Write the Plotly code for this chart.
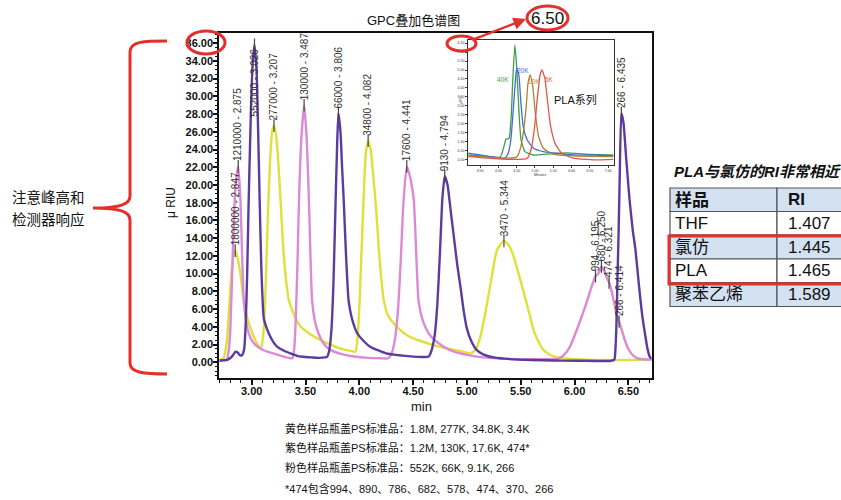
import plotly.graph_objects as go

W, H = 841, 500
FONT = "Liberation Sans, Arial, Noto Sans CJK SC, sans-serif"
RED = "#e3302c"

# ---------------- data ----------------
yellow_x = [2.699, 2.74, 2.77, 2.79, 2.81, 2.83, 2.849, 2.868, 2.895, 2.92, 2.95, 2.99, 3.03, 3.06, 3.085,
            3.105, 3.125, 3.149, 3.17, 3.19, 3.207, 3.225, 3.245, 3.267, 3.29, 3.315, 3.345, 3.40, 3.45, 3.55,
            3.65, 3.75, 3.85, 3.93, 3.964, 3.985, 4.005, 4.025, 4.04, 4.06, 4.082, 4.105, 4.13, 4.155, 4.18,
            4.20, 4.227, 4.27, 4.35, 4.45, 4.57, 4.70, 4.816, 4.93, 5.03, 5.08, 5.125, 5.17, 5.22, 5.28,
            5.344, 5.39, 5.435, 5.48, 5.53, 5.58, 5.62, 5.67, 5.71, 5.77, 5.84, 5.95, 6.10, 6.30, 6.50, 6.717]
yellow_y = [0.25, 0.5, 2.5, 6.0, 9.8, 12.0, 12.6, 11.8, 10.0, 7.5, 5.4, 3.8, 2.6, 1.9, 1.6,
            2.8, 7.0, 16.0, 22.5, 26.0, 26.7, 25.8, 23.0, 18.5, 13.5, 9.8, 7.0, 5.2, 4.1, 3.1,
            2.45, 1.9, 1.45, 1.25, 1.2, 3.0, 7.5, 14.0, 18.5, 23.5, 25.0, 24.0, 21.0, 17.5, 13.0,
            10.0, 7.0, 5.2, 4.0, 3.0, 2.4, 1.9, 1.55, 1.3, 1.0, 1.4, 2.9, 5.5, 8.9, 12.7,
            13.7, 13.2, 11.9, 10.0, 7.8, 5.5, 3.6, 2.2, 1.4, 0.85, 0.55, 0.4, 0.3, 0.25, 0.25, 0.3]

pink_x = [2.699, 2.76, 2.77, 2.785, 2.80, 2.815, 2.833, 2.85, 2.875, 2.895, 2.91, 2.926, 2.95, 2.972, 3.01,
          3.05, 3.12, 3.20, 3.28, 3.36, 3.378, 3.395, 3.41, 3.425, 3.44, 3.46, 3.487, 3.51, 3.53, 3.545,
          3.561, 3.585, 3.62, 3.67, 3.73, 3.83, 3.95, 4.08, 4.20, 4.27, 4.30, 4.33, 4.36, 4.385, 4.41,
          4.441, 4.47, 4.506, 4.53, 4.55, 4.59, 4.645, 4.70, 4.785, 4.88, 5.00, 5.15, 5.35, 5.55, 5.75,
          5.85, 5.90, 5.95, 6.00, 6.05, 6.10, 6.15, 6.195, 6.222, 6.250, 6.28, 6.30, 6.321, 6.345, 6.37,
          6.395, 6.414, 6.44, 6.47, 6.50, 6.55, 6.60, 6.717]
pink_y = [0.15, 0.25, 0.3, 1.2, 3.3, 8.5, 15.5, 20.0, 22.1, 18.5, 12.5, 7.0, 4.5, 3.3, 2.3,
          1.8, 1.3, 1.0, 0.7, 0.45, 0.45, 1.5, 5.0, 11.0, 18.5, 25.0, 29.0, 25.5, 19.0, 12.5,
          7.0, 4.8, 3.27, 2.1, 1.4, 0.95, 0.65, 0.5, 0.45, 0.45, 1.0, 2.5, 6.0, 11.5, 18.0,
          22.1, 21.0, 18.3, 12.0, 7.0, 4.7, 3.27, 2.5, 1.76, 1.2, 0.83, 0.55, 0.4, 0.35, 0.35,
          0.4, 0.8, 1.6, 3.0, 4.6, 6.3, 8.2, 9.7, 10.0, 10.8, 10.2, 9.5, 9.0, 8.0, 6.6,
          5.2, 4.6, 3.6, 2.4, 1.5, 0.7, 0.4, 0.3]

purple_x = [2.699, 2.78, 2.82, 2.849, 2.87, 2.89, 2.91, 2.93, 2.945, 2.958, 2.972, 2.99, 3.008, 3.026, 3.045,
            3.06, 3.074, 3.09, 3.112, 3.135, 3.158, 3.20, 3.236, 3.30, 3.36, 3.43, 3.50, 3.56, 3.63, 3.68,
            3.70, 3.72, 3.74, 3.76, 3.78, 3.795, 3.806, 3.825, 3.84, 3.855, 3.875, 3.90, 3.93, 3.98, 4.04,
            4.10, 4.25, 4.40, 4.50, 4.60, 4.645, 4.67, 4.70, 4.725, 4.75, 4.772, 4.794, 4.82, 4.85, 4.88,
            4.91, 4.94, 4.97, 5.00, 5.04, 5.09, 5.15, 5.25, 5.40, 5.60, 5.80, 6.00, 6.20, 6.33, 6.37,
            6.38, 6.39, 6.40, 6.41, 6.42, 6.435, 6.455, 6.48, 6.51, 6.54, 6.566, 6.60, 6.63, 6.66, 6.68,
            6.70, 6.717]
purple_y = [0.2, 0.3, 0.7, 1.2, 1.1, 0.8, 0.8, 1.5, 4.5, 10.0, 18.3, 27.0, 33.5, 35.8, 33.0,
            26.0, 18.3, 10.5, 5.0, 4.0, 3.27, 2.3, 1.76, 1.3, 1.0, 0.7, 0.6, 0.55, 0.5, 0.55,
            0.6, 1.3, 3.5, 9.0, 18.3, 25.0, 28.1, 26.0, 22.0, 18.3, 12.5, 7.0, 5.0, 3.3, 2.4,
            1.76, 1.0, 0.75, 0.64, 0.6, 0.65, 1.3, 3.0, 6.5, 12.5, 18.5, 21.0, 20.0, 17.0, 14.0,
            11.0, 8.5, 5.8, 3.8, 2.4, 1.4, 0.9, 0.55, 0.35, 0.25, 0.2, 0.18, 0.15, 0.15, 0.3,
            1.5, 4.5, 10.0, 15.0, 21.0, 28.1, 27.0, 23.0, 18.5, 15.0, 12.7, 8.5, 5.2, 2.8, 1.4,
            0.6, 0.4]

# peak labels: molecular weight - retention time
peak_mw = [1800000, 277000, 34800, 3470, 1210000, 130000, 17600, 994, 680, 474, 266, 552000, 66000, 9130, 266]
peak_rt = [2.847, 3.207, 4.082, 5.344, 2.875, 3.487, 4.441, 6.195, 6.250, 6.321, 6.414, 3.026, 3.806, 4.794, 6.435]
peak_h = [12.6, 26.7, 25.0, 13.7, 22.1, 29.0, 22.1, 9.7, 10.8, 9.0, 4.6, 35.8, 28.1, 21.0, 28.1]
peak_inside = [False] * 11 + [True, False, False, False]

# inset (PLA series)
green_x = [3.18, 3.77, 4.05, 4.14, 4.21, 4.29, 4.35, 4.39, 4.45, 4.50, 4.56, 4.62, 4.73, 4.96, 5.32, 5.87, 6.41, 7.14]
green_y = [0.24, 0.15, 0.12, 0.62, 1.12, 1.17, 2.39, 4.26, 6.40, 5.19, 2.76, 1.08, 0.43, 0.24, 0.29, 0.36, 0.29, 0.24]
blue_x = [3.18, 3.77, 4.18, 4.27, 4.34, 4.40, 4.46, 4.50, 4.56, 4.61, 4.68, 4.79, 4.96, 5.23, 5.50, 6.05, 6.60, 7.14]
blue_y = [0.34, 0.15, 0.06, 0.34, 1.08, 2.58, 4.26, 5.10, 4.72, 3.32, 1.83, 1.08, 0.62, 0.43, 0.36, 0.24, 0.24, 0.19]
brown_x = [3.18, 4.22, 4.50, 4.59, 4.68, 4.76, 4.81, 4.87, 4.94, 5.01, 5.10, 5.23, 5.50, 6.05, 7.14]
brown_y = [0.19, 0.06, 0.12, 0.52, 1.46, 2.95, 4.26, 4.72, 4.07, 2.58, 1.27, 0.62, 0.29, 0.19, 0.15]
red_x = [3.18, 4.22, 4.78, 4.89, 4.98, 5.07, 5.14, 5.19, 5.27, 5.34, 5.43, 5.55, 5.73, 6.05, 6.60, 7.14]
red_y = [0.15, 0.0, 0.04, 0.52, 1.64, 3.51, 4.72, 5.00, 4.54, 3.32, 1.83, 0.89, 0.34, 0.06, -0.03, 0.0]
inset_names = ["40K", "20K", "10K", "5K"]

# RI table
table_sample = ["样品", "THF", "氯仿", "PLA", "聚苯乙烯"]
table_ri = ["RI", "1.407", "1.445", "1.465", "1.589"]

notes = ["黄色样品瓶盖PS标准品：1.8M, 277K, 34.8K, 3.4K",
         "紫色样品瓶盖PS标准品：1.2M, 130K, 17.6K, 474*",
         "粉色样品瓶盖PS标准品：552K, 66K, 9.1K, 266",
         "*474包含994、890、786、682、578、474、370、266"]

# ---------------- helpers (pixel -> paper) ----------------
def px(x):
    return x / W

def py(y):
    return 1 - y / H

def note(x, y, text, size, color="#111", xanchor="center", angle=0):
    return dict(x=px(x), y=py(y), xref="paper", yref="paper", text=text, showarrow=False,
                xanchor=xanchor, yanchor="middle", textangle=angle,
                font=dict(size=size, color=color))

fig = go.Figure()

line_kw = dict(width=2.4, shape="spline", smoothing=0.5)
for xs, ys, col in [(yellow_x, yellow_y, "#dfe03a"), (pink_x, pink_y, "#dc8ad4"), (purple_x, purple_y, "#5b3c9e")]:
    fig.add_trace(go.Scatter(x=xs, y=ys, mode="lines", line=dict(color=col, **line_kw),
                             hoverinfo="skip", showlegend=False))

fig.add_trace(go.Scatter(x=peak_rt, y=peak_h, mode="markers",
                         marker=dict(symbol="line-ns", size=9, line=dict(width=1.2, color="#444")),
                         hoverinfo="skip", showlegend=False))

inset_cols = ["#3f9e4a", "#3e6fcf", "#b08038", "#e2574a"]
for xs, ys, col in zip([green_x, blue_x, brown_x, red_x], [green_y, blue_y, brown_y, red_y], inset_cols):
    fig.add_trace(go.Scatter(x=xs, y=ys, mode="lines", xaxis="x2", yaxis="y2",
                             line=dict(color=col, width=1.3, shape="spline", smoothing=0.5),
                             hoverinfo="skip", showlegend=False))

ann = []
for mw, rt, h, inside in zip(peak_mw, peak_rt, peak_h, peak_inside):
    ann.append(dict(x=rt, y=h, xref="x", yref="y", text=f"{mw} - {rt:.3f}", textangle=-90,
                    showarrow=False, xanchor="center", yanchor="top" if inside else "bottom",
                    yshift=-1 if inside else 3, font=dict(size=10, color="#333")))

# inset labels
inset_pos = [(4.12, 4.45), (4.66, 4.95), (4.98, 4.35), (5.40, 4.45)]
label_cols = ["#3f9e4a", "#3e6fcf", "#c08a3a", "#e2574a"]
for (x, y), t, c in zip(inset_pos, inset_names, label_cols):
    ann.append(dict(x=x, y=y, xref="x2", yref="y2", text=t, showarrow=False,
                    xanchor="center", yanchor="middle", font=dict(size=6.5, color=c)))
ann.append(note(575, 100, "PLA系列", 11))
ann.append(note(461, 100, "μRIU", 3.5, "#333", angle=-90))
ann.append(note(540, 175, "Minutes", 3.5, "#333"))

# titles
ann.append(note(413, 20, "GPC叠加色谱图", 13))
ann.append(note(421, 406, "min", 13))
ann.append(note(171, 203, "μ RIU", 12, angle=-90))

# notes
for t, yy in zip(notes, [428, 447.5, 467.5, 488]):
    ann.append(note(283, yy, t, 11, xanchor="left"))

# left remark
ann.append(note(10, 197, "注意峰高和", 14.5, xanchor="left"))
ann.append(note(10, 220, "检测器响应", 14.5, xanchor="left"))

# big 6.50 and arrow
ann.append(note(547.5, 18, "6.50", 17))
ann.append(dict(x=px(526), y=py(19), xref="paper", yref="paper", text="", showarrow=True,
                ax=-54, ay=21, arrowhead=2, arrowsize=1, arrowwidth=2.5, arrowcolor=RED))

# table title
ann.append(note(672, 171, "<b><i>PLA与氯仿的RI非常相近</i></b>", 15, xanchor="left"))

shapes = []
# table
row_edges = [188, 211.5, 235, 259, 282.5, 306.5]
col_edges = [670, 777, 905]
fills = ["#d3e1f1", "#ffffff", "#d3e1f1", "#ffffff", "#d3e1f1"]
for i, (s, r) in enumerate(zip(table_sample, table_ri)):
    y0, y1 = row_edges[i], row_edges[i + 1]
    for j in range(2):
        shapes.append(dict(type="rect", xref="paper", yref="paper",
                           x0=px(col_edges[j]), x1=px(col_edges[j + 1]), y0=py(y1), y1=py(y0),
                           fillcolor=fills[i], line=dict(color="#555", width=1.2), layer="below"))
    bold = i == 0
    ann.append(note(673, (y0 + y1) / 2, f"<b>{s}</b>" if bold else s, 17, xanchor="left"))
    ann.append(note(786, (y0 + y1) / 2, f"<b>{r}</b>" if bold else r, 17, xanchor="left"))

shapes.append(dict(type="rect", xref="paper", yref="paper", x0=px(669), x1=px(905), y0=py(284), y1=py(236),
                   line=dict(color=RED, width=3)))

# red ellipses
for x0, x1, y0, y1 in [(187, 225, 31, 54), (447, 476, 36, 51), (527, 568, 6, 30)]:
    shapes.append(dict(type="circle", xref="paper", yref="paper", x0=px(x0), x1=px(x1),
                       y0=py(y1), y1=py(y0), line=dict(color=RED, width=3)))

# curly brace
pts = "M {a},{b} C {c},{b} {d},{b} {d},{e} L {d},{f} C {d},{g} {h},{i} {j},{i} C {h},{i} {d},{k} {d},{l} L {d},{m} C {d},{n} {c},{o} {a},{o}"
brace = pts.format(a=px(167), b=py(41), c=px(145), d=px(130), e=py(52), f=py(196), g=py(205),
                   h=px(118), i=py(208), j=px(93), k=py(211), l=py(220), m=py(363), n=py(373), o=py(374))
shapes.append(dict(type="path", xref="paper", yref="paper", path=brace, line=dict(color=RED, width=3)))

tickfont = dict(family=FONT, size=11, color="#111", weight="bold")
fig.update_layout(
    width=W, height=H, margin=dict(l=0, r=0, t=0, b=0),
    paper_bgcolor="white", plot_bgcolor="white",
    font=dict(family=FONT, color="#111"),
    showlegend=False,
    xaxis=dict(domain=[px(219.3), px(651.7)], range=[2.699, 6.717], tick0=0, dtick=0.5, tickformat=".2f",
               showline=True, mirror=True, linecolor="#111", linewidth=2, ticks="outside", ticklen=5,
               tickwidth=1.5, tickcolor="#111", showgrid=False, zeroline=False, tickfont=tickfont,
               ticklabelstandoff=-3,
               minor=dict(dtick=0.1, ticklen=3, tickwidth=1, tickcolor="#111", ticks="outside")),
    yaxis=dict(domain=[py(377.7), py(32.5)], range=[-1.74, 37.2], tick0=0, dtick=2, tickformat=".2f",
               showline=True, mirror=True, linecolor="#111", linewidth=2, ticks="outside", ticklen=4,
               tickwidth=1.5, tickcolor="#111", showgrid=False, zeroline=False, tickfont=tickfont,
               ticklabelstandoff=-2,
               minor=dict(dtick=0.5, ticklen=2.5, tickwidth=1, tickcolor="#111", ticks="outside")),
    xaxis2=dict(domain=[px(468), px(614)], anchor="y2", range=[3.17, 7.16], tick0=0, dtick=0.5,
                tickformat=".2f", showline=True, mirror=True, linecolor="#333", linewidth=0.8,
                ticks="outside", ticklen=2, tickwidth=0.6, showgrid=False, zeroline=False,
                tickfont=dict(size=3.5, color="#333")),
    yaxis2=dict(domain=[py(165), py(40)], anchor="x2", range=[-0.32, 6.68], tick0=0, dtick=0.5,
                tickformat=".2f", showline=True, mirror=True, linecolor="#333", linewidth=0.8,
                ticks="outside", ticklen=2, tickwidth=0.6, showgrid=False, zeroline=False,
                tickfont=dict(size=3.5, color="#333")),
    annotations=ann,
    shapes=shapes,
)

fig.write_html("out.html")
